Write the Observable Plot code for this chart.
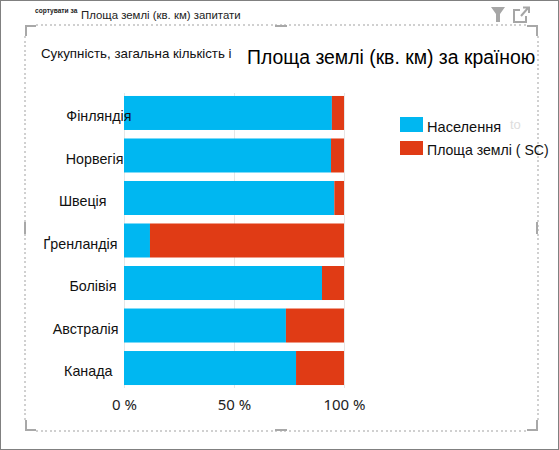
<!DOCTYPE html>
<html><head><meta charset="utf-8">
<script src="https://cdn.jsdelivr.net/npm/d3@7"></script>
<script src="https://cdn.jsdelivr.net/npm/@observablehq/plot@0.6"></script>
<style>
html,body{margin:0;padding:0;background:#fff;width:559px;height:450px;overflow:hidden}
#stage{position:relative;width:559px;height:450px;font-family:"Liberation Sans",Arial,sans-serif}
#stage svg.plot,#stage>svg:first-child{position:absolute;left:0;top:0}
.t{position:absolute;white-space:nowrap;line-height:1}
.sw{position:absolute;width:23px;height:14px}
.deco{position:absolute;background:#a8a8a8}
.dots-h{position:absolute;height:2px;background:repeating-linear-gradient(90deg,#d0d0d0 0 2px,transparent 2px 4.6px)}
.dots-v{position:absolute;width:2px;background:repeating-linear-gradient(180deg,#d0d0d0 0 2px,transparent 2px 4.6px)}
</style></head><body>
<div id="stage"></div>
<script>
const countries = ["Фінляндія","Норвегія","Швеція","Ґренландія","Болівія","Австралія","Канада"];
const population = [94.5,94.1,95.6,11.8,90,73.6,78.2];
const landArea = [5.5,5.9,4.4,88.2,10,26.4,21.8];
const seriesNames = ["Населення","Площа землі ( SC)"];
const seriesColors = ["#00b7f1","#e03b15"];
const xTicks = [0,50,100];
const labelRightEdge = {"Фінляндія":131,"Норвегія":123,"Швеція":106,"Ґренландія":117,"Болівія":116,"Австралія":118,"Канада":112};

const rows = countries.flatMap((c,i)=>[
  {country:c,series:seriesNames[0],share:population[i]},
  {country:c,series:seriesNames[1],share:landArea[i]}
]);
const chart = Plot.plot({
  width:559,height:450,
  marginLeft:124,marginRight:215,marginTop:93,marginBottom:62,
  style:{background:"transparent",fontFamily:"'Noto Sans',sans-serif"},
  x:{domain:[0,100],axis:null},
  y:{domain:countries,paddingInner:0.2,paddingOuter:0.07,round:false,axis:null},
  color:{domain:seriesNames,range:seriesColors},
  marks:[
    Plot.ruleX(xTicks,{stroke:"#e6e6e6",strokeWidth:1}),
    Plot.barX(rows,Plot.stackX({y:"country",x:"share",fill:"series",order:seriesNames})),
    Plot.text(xTicks,{x:d=>d,frameAnchor:"bottom",dy:21,text:d=>d+" %",fontSize:15,fill:"#222"}),
    ...countries.map(c=>Plot.text([c],{
      frameAnchor:"left",y:d=>d,text:d=>d,textAnchor:"end",dy:3,
      dx:labelRightEdge[c]-124,fontSize:14.3,fontFamily:"'Liberation Sans',sans-serif",fill:"#111"
    }))
  ]
});
const stage=document.getElementById("stage");
stage.appendChild(chart);
function add(html){stage.insertAdjacentHTML("beforeend",html)}
add('<div style="position:absolute;left:0;top:0;width:557px;height:448px;border:1px solid #808080"></div>');
add('<div class="dots-h" style="left:36px;top:24px;width:491px"></div><div class="dots-h" style="left:36px;top:430px;width:491px"></div>');
add('<div class="dots-v" style="left:24px;top:36px;height:384px"></div><div class="dots-v" style="left:537px;top:36px;height:384px"></div>');
[[25,25,11,2],[25,25,2,11],[527,25,11,2],[536,25,2,11],[25,429,11,2],[25,420,2,11],[527,429,11,2],[536,420,2,11],[275,429,12,2],[275,25,12,2],[24,222,2,12],[536,222,2,12]]
 .forEach(([l,t,w,h])=>add(`<div class="deco" style="left:${l}px;top:${t}px;width:${w}px;height:${h}px"></div>`));
add('<div class="t" style="left:35px;top:8px;font-size:6.6px;font-weight:bold;color:#222">сортувати за</div>');
add('<div class="t" style="left:81px;top:10px;font-size:11.4px;color:#222">Площа землі (кв. км) запитати</div>');
add('<div class="t" style="left:41px;top:47px;font-size:13.3px;color:#111">Сукупність, загальна кількість і</div>');
add('<div class="t" style="left:247px;top:48px;font-size:19.4px;color:#000">Площа землі (кв. км) за країною</div>');
add(`<div class="sw" style="left:400px;top:117px;height:15px;background:${seriesColors[0]}"></div>`);
add(`<div class="sw" style="left:400px;top:141px;background:${seriesColors[1]}"></div>`);
add(`<div class="t" style="left:427px;top:120px;font-size:14.6px;color:#111">${seriesNames[0]}</div>`);
add('<div class="t" style="left:510px;top:118px;font-size:13px;color:#ddd">to</div>');
add(`<div class="t" style="left:427px;top:143px;font-size:14.1px;color:#111">${seriesNames[1]}</div>`);
add('<svg style="position:absolute;left:490px;top:5px" width="50" height="18"><path d="M1 2H15L10 9V17H6V9Z" fill="#a6a6a6"/><path d="M30 5H24V17H36V11M31 11L38 3M33 2.5H39V8" fill="none" stroke="#a6a6a6" stroke-width="2"/></svg>');
</script></body></html>
